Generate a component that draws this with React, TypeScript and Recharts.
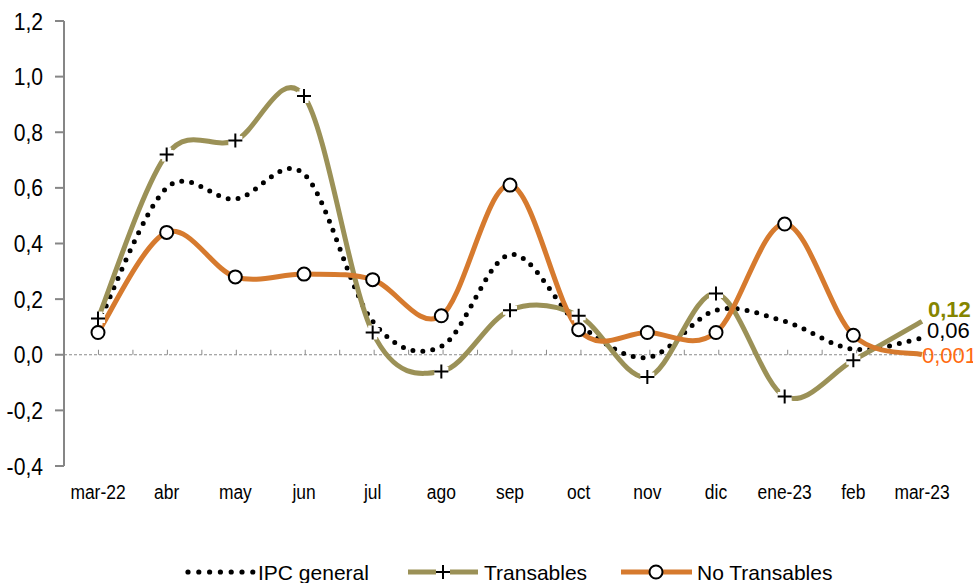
import React from 'react';
import { LineChart, Line, XAxis, YAxis, ReferenceLine, Legend, LabelList } from 'recharts';

const categories = ['mar-22', 'abr', 'may', 'jun', 'jul', 'ago', 'sep', 'oct', 'nov', 'dic', 'ene-23', 'feb', 'mar-23'];
const ipcGeneral = [0.11, 0.6, 0.56, 0.65, 0.12, 0.03, 0.36, 0.11, -0.01, 0.16, 0.12, 0.02, 0.06];
const transables = [0.13, 0.72, 0.77, 0.93, 0.08, -0.06, 0.16, 0.14, -0.08, 0.22, -0.15, -0.02, 0.12];
const noTransables = [0.08, 0.44, 0.28, 0.29, 0.27, 0.14, 0.61, 0.09, 0.08, 0.08, 0.47, 0.07, 0.001];
const yTicks = [-0.4, -0.2, 0, 0.2, 0.4, 0.6, 0.8, 1.0, 1.2];
const seriesNames = ['IPC general', 'Transables', 'No Transables'];
const endLabels = ['0,06', '0,12', '0,001'];

const data = categories.map((c, i) => ({
  cat: c,
  ipc: ipcGeneral[i],
  tr: transables[i],
  nt: noTransables[i],
}));

const FONT = "'Liberation Sans', Arial, sans-serif";
const OLIVE = '#9B9157';
const ORANGE = '#D67A2E';

// Excel-like smoothing (uniform Catmull-Rom)
const smooth: any = (context: any) => {
  let pts: number[][] = [];
  return {
    areaStart() {},
    areaEnd() {},
    lineStart() {
      pts = [];
    },
    point(x: number, y: number) {
      pts.push([+x, +y]);
    },
    lineEnd() {
      if (!pts.length) return;
      context.moveTo(pts[0][0], pts[0][1]);
      for (let i = 0; i < pts.length - 1; i++) {
        const p0 = pts[i - 1] || pts[i];
        const p1 = pts[i];
        const p2 = pts[i + 1];
        const p3 = pts[i + 2] || p2;
        context.bezierCurveTo(
          p1[0] + (p2[0] - p0[0]) / 6,
          p1[1] + (p2[1] - p0[1]) / 6,
          p2[0] - (p3[0] - p1[0]) / 6,
          p2[1] - (p3[1] - p1[1]) / 6,
          p2[0],
          p2[1]
        );
      }
    },
  };
};

const plusPath = (cx: number, cy: number, a: number) => `M${cx - a},${cy}H${cx + a}M${cx},${cy - a}V${cy + a}`;

const PlusDot = (props: any) => {
  const { cx, cy, index } = props;
  if (cx == null || cy == null || index === categories.length - 1) return <g key={`p${index}`} />;
  return (
    <g key={`p${index}`}>
      <path d={plusPath(cx, cy, 7)} stroke="#fff" strokeWidth={9} fill="none" />
      <path d={plusPath(cx, cy, 7)} stroke="#000" strokeWidth={2} fill="none" />
    </g>
  );
};

const CircleDot = (props: any) => {
  const { cx, cy, index } = props;
  if (cx == null || cy == null || index === categories.length - 1) return <g key={`c${index}`} />;
  return <circle key={`c${index}`} cx={cx} cy={cy} r={6.5} fill="#fff" stroke="#000" strokeWidth={2} />;
};

const XTick = (props: any) => {
  const { x, y, payload } = props;
  return (
    <text
      transform={`translate(${x},${y}) scale(0.83,1)`}
      textAnchor="middle"
      dy="0.71em"
      fontSize={21}
      fontFamily={FONT}
      fill="#000"
    >
      {payload.value}
    </text>
  );
};

const YTick = (props: any) => {
  const { x, y, payload } = props;
  return (
    <text
      transform={`translate(${x},${y}) scale(0.88,1)`}
      textAnchor="end"
      dy="0.355em"
      fontSize={24}
      fontFamily={FONT}
      fill="#000"
    >
      {Number(payload.value).toFixed(1).replace('.', ',')}
    </text>
  );
};

const makeEndLabel = (text: string, color: string, bold: boolean, dx: number, dy: number) => (props: any) => {
  const { x, y, index } = props;
  if (index !== categories.length - 1) return null;
  return (
    <text x={x + dx} y={y + dy} fill={color} fontSize={22} fontWeight={bold ? 700 : 400} fontFamily={FONT}>
      {text}
    </text>
  );
};

const ZeroLine = (props: any) => {
  const { x1, y1, x2 } = props;
  const n = 26;
  const step = (x2 - x1) / n;
  const ticks = [];
  for (let i = 1; i <= n; i++) {
    const x = x1 + i * step;
    ticks.push(<line key={i} x1={x} x2={x} y1={y1} y2={y1 - 5} stroke="#8a8a8a" strokeWidth={1} />);
  }
  return (
    <g>
      <line x1={x1} x2={x2} y1={y1} y2={y1} stroke="#8a8a8a" strokeWidth={1} strokeDasharray="3 2" />
      {ticks}
    </g>
  );
};

const LegendContent = () => {
  const dots = [];
  for (let i = 0; i < 7; i++) dots.push(<circle key={i} cx={188 + i * 10.8} cy={17} r={2.6} fill="#000" />);
  const ts = { fontSize: 21, fontFamily: FONT, fill: '#000' } as any;
  return (
    <svg width={973} height={34} style={{ position: 'absolute', left: 0, top: 0, overflow: 'visible' }}>
      {dots}
      <text x={258} y={24.5} {...ts}>{seriesNames[0]}</text>
      <line x1={408} x2={478} y1={17} y2={17} stroke={OLIVE} strokeWidth={5} />
      <path d={plusPath(443, 17, 7)} stroke="#fff" strokeWidth={9} />
      <path d={plusPath(443, 17, 7)} stroke="#000" strokeWidth={2} />
      <text x={484} y={24.5} {...ts}>{seriesNames[1]}</text>
      <line x1={621} x2={692} y1={17} y2={17} stroke={ORANGE} strokeWidth={5} />
      <circle cx={656} cy={17} r={6.5} fill="#fff" stroke="#000" strokeWidth={2} />
      <text x={697} y={24.5} {...ts}>{seriesNames[2]}</text>
    </svg>
  );
};

export default function App() {
  return (
    <div style={{ position: 'absolute', left: 0, top: 0, width: 973, height: 583, background: '#fff' }}>
      <LineChart
        width={973}
        height={583}
        data={data}
        margin={{ top: 21, right: 13, left: 8, bottom: 87 }}
        style={{ overflow: 'visible' }}
      >
        <XAxis
          dataKey="cat"
          axisLine={false}
          tickLine={false}
          tickSize={6}
          tickMargin={12}
          height={30}
          padding={{ left: 34, right: 38 }}
          interval={0}
          tick={XTick}
        />
        <YAxis
          domain={[-0.4, 1.2]}
          ticks={yTicks}
          width={56}
          tickSize={9}
          tickMargin={12}
          interval={0}
          axisLine={{ stroke: '#868686', strokeWidth: 2 }}
          tickLine={{ stroke: '#868686', strokeWidth: 2 }}
          tick={YTick}
          allowDataOverflow
        />
        <ReferenceLine y={0} shape={ZeroLine} />
        <Line
          dataKey="ipc"
          name={seriesNames[0]}
          type={smooth}
          stroke="#000"
          strokeWidth={5}
          strokeDasharray="0 10"
          strokeLinecap="round"
          dot={false}
          activeDot={false}
          isAnimationActive={false}
        >
          <LabelList dataKey="ipc" content={makeEndLabel(endLabels[0], '#000', false, 5, 0)} />
        </Line>
        <Line
          dataKey="tr"
          name={seriesNames[1]}
          type={smooth}
          stroke={OLIVE}
          strokeWidth={5}
          dot={PlusDot}
          activeDot={false}
          isAnimationActive={false}
        >
          <LabelList dataKey="tr" content={makeEndLabel(endLabels[1], '#858500', true, 6, -4)} />
        </Line>
        <Line
          dataKey="nt"
          name={seriesNames[2]}
          type={smooth}
          stroke={ORANGE}
          strokeWidth={5}
          dot={CircleDot}
          activeDot={false}
          isAnimationActive={false}
        >
          <LabelList dataKey="nt" content={makeEndLabel(endLabels[2], '#FF6A10', false, 0, 9)} />
        </Line>
        <Legend
          content={LegendContent}
          wrapperStyle={{ position: 'absolute', left: 0, top: 555, bottom: 'auto', width: 973, height: 0 }}
        />
      </LineChart>
    </div>
  );
}
